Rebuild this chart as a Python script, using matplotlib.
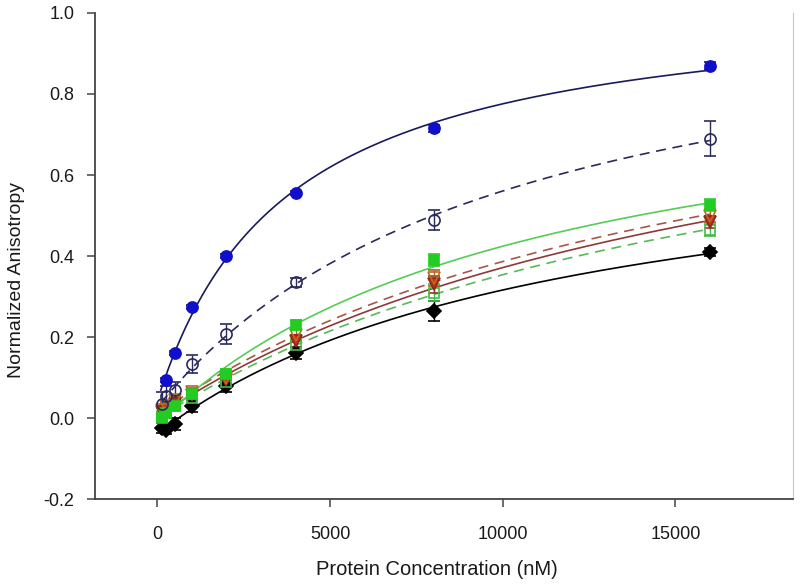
import numpy as np
import matplotlib
matplotlib.use("Agg")
import matplotlib.pyplot as plt

plt.rcParams['font.family'] = ['Liberation Sans', 'DejaVu Sans']

conc = [125, 250, 500, 1000, 2000, 4000, 8000, 16000]
conc_blue = [250, 500, 1000, 2000, 4000, 8000, 16000]

blue_filled = [0.095, 0.16, 0.275, 0.40, 0.555, 0.715, 0.87]
blue_filled_err = [0.005, 0.005, 0.005, 0.005, 0.005, 0.008, 0.008]

blue_open = [0.035, 0.055, 0.07, 0.133, 0.207, 0.335, 0.489, 0.69]
blue_open_err = [0.03, 0.025, 0.02, 0.022, 0.025, 0.012, 0.025, 0.043]

green_filled = [0.0, 0.012, 0.03, 0.06, 0.11, 0.23, 0.39, 0.525]
green_filled_err = [0.01, 0.01, 0.01, 0.01, 0.012, 0.012, 0.015, 0.015]

brown_open = [0.02, 0.03, 0.045, 0.065, 0.10, 0.205, 0.345, 0.50]
brown_open_err = [0.01, 0.01, 0.01, 0.01, 0.012, 0.015, 0.02, 0.015]

red_filled = [0.015, 0.02, 0.035, 0.058, 0.095, 0.19, 0.33, 0.485]
red_filled_err = [0.01, 0.01, 0.01, 0.01, 0.012, 0.015, 0.02, 0.015]

green_open = [0.005, 0.015, 0.03, 0.05, 0.09, 0.18, 0.31, 0.465]
green_open_err = [0.01, 0.01, 0.01, 0.01, 0.012, 0.015, 0.02, 0.015]

black = [-0.025, -0.028, -0.015, 0.03, 0.08, 0.16, 0.265, 0.41]
black_err = [0.012, 0.012, 0.015, 0.015, 0.015, 0.015, 0.025, 0.01]


def fit_hyperbola(x, y):
    x = np.asarray(x, float)
    y = np.asarray(y, float)
    best = None
    for k in np.logspace(2, 5.5, 400):
        f = x / (k + x)
        A = np.column_stack([f, np.ones_like(f)])
        coef, *_ = np.linalg.lstsq(A, y, rcond=None)
        r = np.sum((A @ coef - y) ** 2)
        if best is None or r < best[0]:
            best = (r, k, coef)
    _, k, (a, c) = best
    return lambda xx: a * xx / (k + xx) + c


fig = plt.figure(figsize=(8, 5.88), dpi=100)
ax = fig.add_axes([0.119, 0.151, 0.872, 0.827])

xx = np.linspace(100, 16000, 400)

series = [
    # x, y, err, marker, mfc, mec, line color, linestyle, ecolor, size
    (conc, black, black_err, 'D', 'black', 'black', 'black', '-', 'black', 7),
    (conc, green_open, green_open_err, 's', 'none', '#44bb44', '#55bb55', (0, (6, 4)), '#44bb44', 7),
    (conc, red_filled, red_filled_err, 'v', '#cc2a1a', '#8b2a1a', '#8b3a3a', '-', '#8b3a3a', 8),
    (conc, brown_open, brown_open_err, 'v', 'none', '#b86a20', '#a8564a', (0, (6, 4)), '#b06020', 8),
    (conc, green_filled, green_filled_err, 's', '#22cc22', '#22cc22', '#55cc55', '-', '#33cc33', 7),
    (conc, blue_open, blue_open_err, 'o', 'none', '#2a2a5a', '#2a2a5a', (0, (6, 4)), '#2a2a5a', 8),
    (conc_blue, blue_filled, blue_filled_err, 'o', '#1010cc', '#1010cc', '#1a1a5a', '-', '#1a1a5a', 8),
]

for x, y, e, m, mfc, mec, lc, ls, ec, ms in series:
    f = fit_hyperbola(x, y)
    ax.plot(xx, f(xx), color=lc, linestyle=ls, linewidth=1.2, zorder=2)
    ax.errorbar(x, y, yerr=e, fmt=m, markersize=ms, markerfacecolor=mfc,
                markeredgecolor=mec, markeredgewidth=1.2, ecolor=ec,
                elinewidth=1.0, capsize=4.5, capthick=1.0, linestyle='none',
                zorder=3)

ax.set_xlim(-1800, 18400)
ax.set_ylim(-0.2, 1.0)
ax.set_xticks([0, 5000, 10000, 15000])
ax.set_yticks([-0.2, 0.0, 0.2, 0.4, 0.6, 0.8, 1.0])
ax.set_yticklabels(['-0.2', '0.0', '0.2', '0.4', '0.6', '0.8', '1.0'])

ax.spines['top'].set_visible(False)
ax.spines['right'].set_color('#c8c8c8')
ax.spines['right'].set_linewidth(0.8)
for s in ['left', 'bottom']:
    ax.spines[s].set_color('#444444')
    ax.spines[s].set_linewidth(1.3)

ax.tick_params(axis='both', direction='out', length=6, width=1.1, colors='#444444',
               labelcolor='#1a1a1a', labelsize=13)
ax.tick_params(axis='x', pad=13)
ax.tick_params(axis='y', pad=9, right=False)

ax.set_xlabel('Protein Concentration (nM)', fontsize=14.5, color='#1a1a1a')
ax.set_ylabel('Normalized Anisotropy', fontsize=14, color='#1a1a1a')
ax.yaxis.set_label_coords(-0.1, 0.45)
ax.xaxis.set_label_coords(0.49, -0.125)

fig.savefig('out.png', dpi=100)
